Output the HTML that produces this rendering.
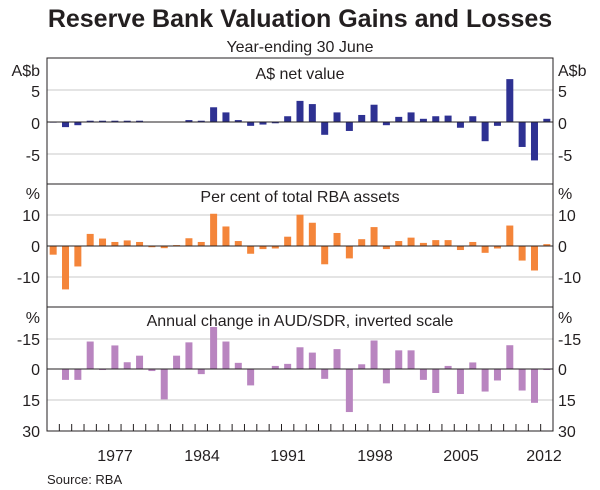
<!DOCTYPE html>
<html><head><meta charset="utf-8"><style>
html,body{margin:0;padding:0;background:#fff;}
svg{display:block;font-family:"Liberation Sans",Arial,sans-serif;}
</style></head><body>
<svg id="s" width="600" height="490" viewBox="0 0 600 490" xmlns="http://www.w3.org/2000/svg">
<text x="300" y="27" font-size="25" font-weight="bold" text-anchor="middle" fill="#231f20">Reserve Bank Valuation Gains and Losses</text>
<text x="300" y="52" font-size="16" text-anchor="middle" fill="#231f20">Year-ending 30 June</text>
<g id="grid"></g>
<g id="bars"></g>
<g font-size="16" fill="#231f20">
<text x="300" y="79" text-anchor="middle">A$ net value</text>
<text x="300" y="202" text-anchor="middle">Per cent of total RBA assets</text>
<text x="300" y="326" text-anchor="middle">Annual change in AUD/SDR, inverted scale</text>
<text x="40" y="76" text-anchor="end">A$b</text><text x="558" y="76">A$b</text>
<text x="40" y="97" text-anchor="end">5</text><text x="558" y="97">5</text>
<text x="40" y="129" text-anchor="end">0</text><text x="558" y="129">0</text>
<text x="40" y="161" text-anchor="end">-5</text><text x="558" y="161">-5</text>
<text x="40" y="199" text-anchor="end">%</text><text x="558" y="199">%</text>
<text x="40" y="221" text-anchor="end">10</text><text x="558" y="221">10</text>
<text x="40" y="252" text-anchor="end">0</text><text x="558" y="252">0</text>
<text x="40" y="283" text-anchor="end">-10</text><text x="558" y="283">-10</text>
<text x="40" y="323" text-anchor="end">%</text><text x="558" y="323">%</text>
<text x="40" y="345" text-anchor="end">-15</text><text x="558" y="345">-15</text>
<text x="40" y="375" text-anchor="end">0</text><text x="558" y="375">0</text>
<text x="40" y="406" text-anchor="end">15</text><text x="558" y="406">15</text>
<text x="40" y="437" text-anchor="end">30</text><text x="558" y="437">30</text>
<text x="115" y="461" text-anchor="middle">1977</text>
<text x="202" y="461" text-anchor="middle">1984</text>
<text x="288" y="461" text-anchor="middle">1991</text>
<text x="375" y="461" text-anchor="middle">1998</text>
<text x="461" y="461" text-anchor="middle">2005</text>
<text x="544" y="461" text-anchor="middle">2012</text>
</g>
<text x="47" y="484" font-size="13" fill="#231f20">Source: RBA</text>
</svg>
<script>
var L=47,R=553,N=41,W=(R-L)/N,ns="http://www.w3.org/2000/svg";
function el(p,t,a){var e=document.createElementNS(ns,t);for(var k in a)e.setAttribute(k,a[k]);p.appendChild(e);return e;}
var g=document.getElementById('grid'),b=document.getElementById('bars');
[90,154,215,277,339,400].forEach(function(y){el(g,'line',{x1:L,x2:R,y1:y,y2:y,stroke:'#c8c8c8','stroke-width':1});});
var p1=[-0.1,-0.8,-0.5,0.2,0.2,0.2,0.2,0.2,0,0,0,0.3,0.2,2.3,1.5,0.3,-0.6,-0.4,-0.2,0.9,3.3,2.8,-2.0,1.5,-1.4,1.1,2.7,-0.5,0.8,1.5,0.5,0.9,1.0,-0.9,0.9,-3.0,-0.6,6.7,-3.9,-6.0,0.5];
var p2=[-2.8,-14,-6.6,3.9,2.4,1.3,1.8,1.3,-0.4,-0.7,0.3,2.5,1.3,10.4,6.3,1.6,-2.5,-1.0,-0.8,3.0,10.1,7.5,-5.9,4.2,-4.0,2.2,6.1,-1.0,1.6,2.7,1.0,1.9,1.9,-1.3,1.3,-2.2,-0.8,6.6,-4.7,-7.9,0.6];
var p3=[0,-5.3,-5.3,13.4,-0.5,11.5,3.3,6.5,-1.0,-14.8,6.5,13,-2.5,20.5,13.4,3,-8,0,1.5,2.5,10.6,8,-4.8,9.7,-21,2.3,13.9,-7,9.1,9.1,-5.3,-11.7,1.5,-12.2,3.2,-11,-5.6,11.6,-10.5,-16.5,-0.5];
function draw(d,z,s,c){d.forEach(function(v,i){var x=L+W*(i+0.5)-3.5,h=Math.abs(v)*s;var y=v>0?z-h:z;if(h>0)el(b,'rect',{x:x,y:y,width:7,height:h,fill:c});});}
draw(p1,122,6.4,'#2e3192');draw(p2,246,3.1,'#f4853a');draw(p3,369,2.05,'#b985c0');
[122,246,369].forEach(function(y){el(b,'line',{x1:L,x2:R,y1:y,y2:y,stroke:'#231f20','stroke-width':1});});
[184,307].forEach(function(y){el(b,'line',{x1:L,x2:R,y1:y,y2:y,stroke:'#231f20','stroke-width':1});});
el(b,'rect',{x:L,y:58,width:R-L,height:373,fill:'none',stroke:'#231f20','stroke-width':1});
for(var i=1;i<N;i++){var x=L+W*i;el(b,'line',{x1:x,x2:x,y1:431,y2:424,stroke:'#231f20','stroke-width':1});}
</script>
</body></html>
